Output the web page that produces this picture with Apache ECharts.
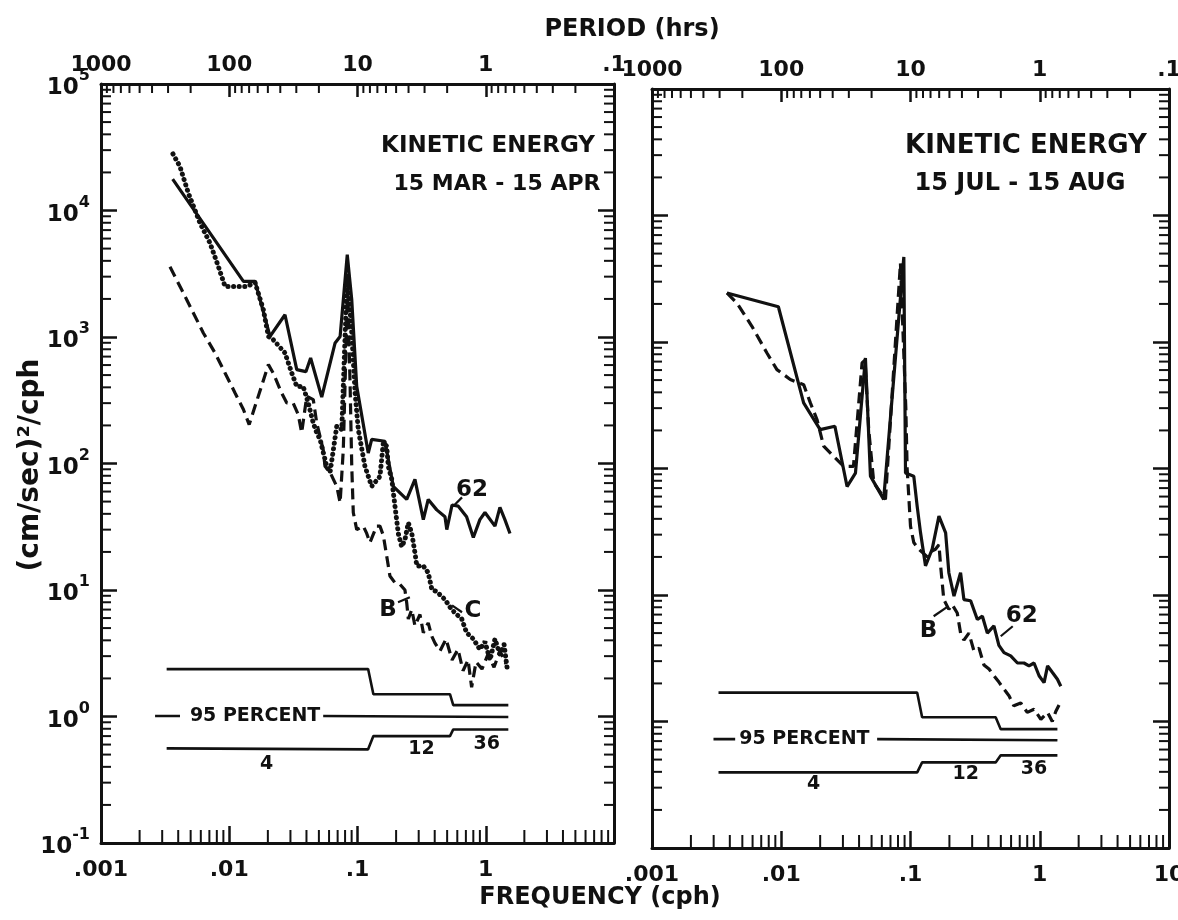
<!DOCTYPE html>
<html>
<head>
<meta charset="utf-8">
<script src="https://cdn.jsdelivr.net/npm/echarts@6.0.0/dist/echarts.min.js"></script>
<style>
html,body{margin:0;padding:0;background:#fff;}
#chart{width:1178px;height:920px;}
</style>
</head>
<body>
<div id="chart"></div>
<script>
// ---------- tick labels ----------
const freqLabels   = ['.001', '.01', '.1', '1', '10'];      // at 0.001 .. 10 cph
const periodLabels = ['1000', '100', '10', '1', '.1'];      // hours, same positions
const powerExponents = ['-1', '0', '1', '2', '3', '4', '5']; // 10^-1 .. 10^5
const minorMantissas = [2, 3, 4, 5, 6, 7, 8, 9];
const freqDecades  = [0.001, 0.01, 0.1, 1];
const periodDecades = [100, 10, 1, 0.1];   // minor periods m*decade (m=2..9)
const powerDecades = [0.1, 1, 10, 100, 1000, 10000];

// ---------- 15 MAR - 15 APR : [frequency cph, KE (cm/s)^2/cph] ----------
const mar62 = [[0.00362,17700],[0.0129,2750],[0.0159,2750],[0.0208,1010],[0.0272,1500],[0.0336,552],[0.0396,532],[0.0431,682],[0.0526,335],[0.0669,897],[0.0732,1010],[0.0832,4470],[0.0902,1970],[0.0986,407],[0.1213,121],[0.129,155],[0.1637,150],[0.190,66],[0.242,52],[0.2805,75],[0.326,36],[0.356,52],[0.415,43],[0.481,38],[0.497,30],[0.546,47],[0.611,46],[0.709,38],[0.80,26],[0.90,36],[0.986,41],[1.18,32],[1.29,45],[1.41,36],[1.545,28]];
const marC = [[0.00364,28000],[0.00413,22200],[0.0048,13700],[0.00592,7940],[0.00708,5520],[0.00822,3610],[0.00927,2510],[0.01368,2510],[0.0159,2690],[0.01846,1640],[0.0202,1010],[0.0220,953],[0.0272,748],[0.0307,520],[0.0336,407],[0.0377,407],[0.0413,301],[0.0452,209],[0.0481,175],[0.0511,155],[0.0575,95],[0.0611,85],[0.0689,197],[0.0754,186],[0.0832,3100],[0.0902,1076],[0.0958,361],[0.1014,186],[0.1143,95],[0.129,66],[0.1496,79],[0.159,146],[0.169,137],[0.1738,95],[0.185,75],[0.196,46],[0.208,28],[0.221,22],[0.2344,25],[0.249,34],[0.265,28],[0.2805,19.7],[0.29,15.5],[0.326,15.5],[0.356,13.7],[0.38,10.1],[0.415,9.7],[0.481,8.4],[0.543,7.0],[0.594,6.4],[0.65,5.9],[0.709,4.6],[0.80,4.1],[0.90,3.4],[0.986,3.9],[1.08,2.8],[1.18,4.1],[1.29,3.1],[1.39,3.7],[1.465,2.45]];
const marB = [[0.00345,3590],[0.00425,2370],[0.00525,1550],[0.00628,1076],[0.00775,748],[0.00927,520],[0.0111,361],[0.0129,267],[0.0143,203],[0.0202,605],[0.022,520],[0.0256,361],[0.0281,301],[0.0315,301],[0.0345,244],[0.0367,175],[0.0402,340],[0.0452,320],[0.0481,209],[0.054,129],[0.0558,95],[0.0611,85],[0.0689,66],[0.0732,49],[0.0775,129],[0.0837,2370],[0.0875,434],[0.0902,95],[0.0927,41],[0.0986,30],[0.111,32],[0.118,28],[0.125,23.7],[0.141,32],[0.1496,32],[0.159,27],[0.169,18.5],[0.179,12.9],[0.196,11.4],[0.214,11.1],[0.2344,10],[0.242,7.9],[0.249,5.9],[0.265,7],[0.2805,5.2],[0.307,6.4],[0.326,4.6],[0.356,5.5],[0.38,4.3],[0.402,3.8],[0.44,3.3],[0.49,4.1],[0.546,2.8],[0.608,3.4],[0.665,2.3],[0.728,2.8],[0.776,1.7],[0.84,2.7],[0.935,2.37],[1.04,3.1],[1.16,2.45],[1.29,3.3],[1.44,2.6]];
const marBandUpper = [[0.00325,2.37],[0.121,2.37],[0.133,1.5],[0.526,1.5],[0.558,1.23],[1.5,1.23]];
const marBandMidA  = [[0.00264,1.01],[0.00413,1.01]];
const marBandMidB  = [[0.054,1.01],[1.5,0.99]];
const marBandLower = [[0.00325,0.56],[0.121,0.55],[0.133,0.70],[0.526,0.70],[0.558,0.79],[1.5,0.79]];
const marNotes = [['95 PERCENT',0.0159,1.0],['4',0.0196,0.42],['12',0.316,0.55],['36',1.016,0.605]];
const marCurveNotes = [['62',0.78,62],['B',0.173,7.0],['C',0.795,6.8]];
const marLeaders = [[[0.575,47.4],[0.653,54]],[[0.207,8.0],[0.256,8.75]],[[0.653,6.67],[0.546,7.57]]];

// ---------- 15 JUL - 15 AUG ----------
const jul62 = [[0.0038,2440],[0.0095,1900],[0.0149,330],[0.020,203],[0.026,216],[0.0323,72],[0.0375,92],[0.0448,748],[0.049,87],[0.062,57],[0.0888,4700],[0.0915,92],[0.106,87],[0.1127,50],[0.1196,31],[0.1306,17],[0.147,23],[0.166,42],[0.187,31],[0.198,15],[0.217,9.8],[0.244,15],[0.259,9.2],[0.292,9.0],[0.329,6.4],[0.36,6.8],[0.393,5.0],[0.442,5.7],[0.483,4.0],[0.529,3.5],[0.596,3.3],[0.672,2.9],[0.755,2.9],[0.826,2.75],[0.903,2.9],[0.988,2.3],[1.08,2.03],[1.15,2.75],[1.25,2.45],[1.37,2.16],[1.455,1.9]];
const julB = [[0.0038,2440],[0.00454,2030],[0.00593,1330],[0.00775,818],[0.00926,605],[0.01175,505],[0.0149,460],[0.0168,330],[0.0189,244],[0.0213,150],[0.0254,125],[0.0304,104],[0.0362,104],[0.0422,683],[0.0445,720],[0.0475,203],[0.052,77],[0.064,57],[0.0836,4200],[0.092,300],[0.0942,100],[0.1,35],[0.106,26],[0.116,23],[0.135,20],[0.143,22],[0.156,23],[0.166,25],[0.171,17],[0.181,9.2],[0.198,7.7],[0.21,8.4],[0.23,7.2],[0.244,5.0],[0.259,4.4],[0.283,5.0],[0.31,3.6],[0.339,3.8],[0.37,2.8],[0.405,2.6],[0.442,2.3],[0.483,2.05],[0.529,1.8],[0.578,1.6],[0.63,1.33],[0.713,1.4],[0.80,1.18],[0.903,1.25],[1.02,1.04],[1.15,1.18],[1.25,1.0],[1.33,1.2],[1.41,1.35]];
const julBandUpper = [[0.00327,1.69],[0.1127,1.69],[0.123,1.08],[0.456,1.08],[0.499,0.87],[1.37,0.87]];
const julBandMidA  = [[0.00299,0.726],[0.0044,0.726]];
const julBandMidB  = [[0.0552,0.726],[1.37,0.71]];
const julBandLower = [[0.00327,0.396],[0.1127,0.396],[0.123,0.475],[0.456,0.475],[0.499,0.54],[1.37,0.54]];
const julNotes = [['95 PERCENT',0.0151,0.726],['4',0.0178,0.32],['12',0.267,0.384],['36',0.903,0.42]];
const julCurveNotes = [['B',0.138,5.2],['62',0.725,6.8]];
const julLeaders = [[[0.151,6.79],[0.194,8.1]],[[0.499,4.72],[0.618,5.66]]];

// ---------- build ----------
const FONT = 'DejaVu Sans';
const INK = '#111';
const minorOf = (decs) => decs.flatMap(d => minorMantissas.map(m => +(m * d).toPrecision(3)));
const xMinor = minorOf(freqDecades);
const topMinor = minorOf(periodDecades).map(p => 1 / p);
const yMinor = minorOf(powerDecades);

const grids = [
  {left: 101, top: 84, width: 513, height: 759},
  {left: 652, top: 89, width: 517, height: 759}
];
const decIdx = v => Math.round(Math.log10(v));

const xAxes = [], yAxes = [], series = [];
grids.forEach((g, gi) => {
  xAxes.push({
    type: 'log', gridIndex: gi, position: 'bottom', min: 0.001, max: 10, splitNumber: 4,
    axisLine: {show: true, lineStyle: {color: INK, width: 3}},
    axisTick: {show: true, inside: true, length: 17, lineStyle: {color: INK, width: 2.5}},
    splitLine: {show: false}, minorTick: {show: false},
    axisLabel: {
      show: true, showMinLabel: true, showMaxLabel: true, margin: 16,
      fontFamily: FONT, fontWeight: 'bold', fontSize: 22, color: INK,
      formatter: v => (gi === 0 && decIdx(v) === 1) ? '' : freqLabels[decIdx(v) + 3]
    }
  });
  xAxes.push({
    type: 'log', gridIndex: gi, position: 'top', min: 0.001, max: 10, splitNumber: 4,
    axisLine: {show: true, lineStyle: {color: INK, width: 3}},
    axisTick: {show: true, inside: true, length: 13, lineStyle: {color: INK, width: 2.5}},
    splitLine: {show: false}, minorTick: {show: false},
    axisLabel: {
      show: true, showMinLabel: true, showMaxLabel: true, margin: 8,
      fontFamily: FONT, fontWeight: 'bold', fontSize: 22, color: INK,
      formatter: v => periodLabels[decIdx(v) + 3]
    }
  });
  yAxes.push({
    type: 'log', gridIndex: gi, position: 'left', min: 0.1, max: 100000, splitNumber: 6,
    axisLine: {show: true, lineStyle: {color: INK, width: 3}},
    axisTick: {show: true, inside: true, length: 16, lineStyle: {color: INK, width: 2.5}},
    splitLine: {show: false}, minorTick: {show: false},
    axisLabel: {
      show: gi === 0, showMinLabel: true, showMaxLabel: true, margin: 11,
      formatter: v => '{b|10}{e|' + powerExponents[decIdx(v) + 1] + '}',
      rich: {
        b: {fontFamily: FONT, fontWeight: 'bold', fontSize: 23, color: INK, lineHeight: 32, verticalAlign: 'bottom'},
        e: {fontFamily: FONT, fontWeight: 'bold', fontSize: 16, color: INK, lineHeight: 16, verticalAlign: 'top'}
      }
    }
  });
  yAxes.push({
    type: 'log', gridIndex: gi, position: 'right', min: 0.1, max: 100000, splitNumber: 6,
    axisLine: {show: true, lineStyle: {color: INK, width: 3}},
    axisTick: {show: true, inside: true, length: 16, lineStyle: {color: INK, width: 2.5}},
    splitLine: {show: false}, minorTick: {show: false},
    axisLabel: {show: false}
  });

  // minor ticks drawn through the axes' scales
  const tickStyle = {stroke: INK, lineWidth: 2};
  series.push({
    type: 'custom', xAxisIndex: 2 * gi, yAxisIndex: 2 * gi, silent: true, z: 6,
    data: xMinor.map(v => [v, 1]),
    renderItem: (params, api) => {
      const cs = params.coordSys, x = api.coord([api.value(0), 1])[0];
      const yb = cs.y + cs.height;
      return {type: 'line', shape: {x1: x, y1: yb, x2: x, y2: yb - 13}, style: tickStyle};
    }
  });
  series.push({
    type: 'custom', xAxisIndex: 2 * gi, yAxisIndex: 2 * gi, silent: true, z: 6,
    data: topMinor.map(v => [v, 1]),
    renderItem: (params, api) => {
      const cs = params.coordSys, x = api.coord([api.value(0), 1])[0];
      return {type: 'line', shape: {x1: x, y1: cs.y, x2: x, y2: cs.y + 9}, style: tickStyle};
    }
  });
  series.push({
    type: 'custom', xAxisIndex: 2 * gi, yAxisIndex: 2 * gi, silent: true, z: 6,
    data: yMinor.map(v => [1, v]),
    renderItem: (params, api) => {
      const cs = params.coordSys, y = api.coord([1, api.value(1)])[1];
      return {type: 'group', children: [
        {type: 'line', shape: {x1: cs.x, y1: y, x2: cs.x + 10, y2: y}, style: tickStyle},
        {type: 'line', shape: {x1: cs.x + cs.width, y1: y, x2: cs.x + cs.width - 10, y2: y}, style: tickStyle}
      ]};
    }
  });
});

function line(gi, data, style) {
  return {type: 'line', xAxisIndex: 2 * gi, yAxisIndex: 2 * gi, data: data, symbol: 'none',
    silent: true, z: 3, lineStyle: Object.assign({color: INK}, style)};
}
function notes(gi, list, size) {
  return {
    type: 'scatter', xAxisIndex: 2 * gi, yAxisIndex: 2 * gi, silent: true, z: 7,
    symbolSize: 1, itemStyle: {color: 'rgba(255,255,255,0)', opacity: 1},
    data: list.map(n => ({name: n[0], value: [n[1], n[2]]})),
    label: {show: true, position: 'inside', formatter: '{b}', fontFamily: FONT, fontWeight: 'bold',
      fontSize: size, color: INK, opacity: 1}
  };
}
const solid = {width: 3.2};
const dashed = {width: 3.2, type: [11, 6]};
const dotted = {width: 5, type: [0.1, 5.5], cap: 'round'};
const band = {width: 2.6};

[[0, [mar62, solid], [marB, dashed], [marC, dotted]], [1, [jul62, solid], [julB, dashed]]].forEach(([gi, ...curves]) => {
  curves.forEach(([d, s]) => series.push(line(gi, d, s)));
});
[[0, [marBandUpper, marBandMidA, marBandMidB, marBandLower], marLeaders, marNotes, marCurveNotes],
 [1, [julBandUpper, julBandMidA, julBandMidB, julBandLower], julLeaders, julNotes, julCurveNotes]].forEach(([gi, bands, leaders, bn, cn]) => {
  bands.forEach(b => series.push(line(gi, b, band)));
  leaders.forEach(l => series.push(line(gi, l, {width: 2.2})));
  series.push(notes(gi, bn, 19));
  series.push(notes(gi, cn, 23));
});

const txt = (x, y, s, size, extra) => Object.assign({
  type: 'text', x: x, y: y, silent: true,
  style: {text: s, fontFamily: FONT, fontWeight: 'bold', fontSize: size, fill: INK, align: 'center', verticalAlign: 'middle'}
}, extra || {});

const option = {
  backgroundColor: '#fff',
  animation: false,
  grid: grids.map(g => Object.assign({containLabel: false, outerBoundsMode: 'none'}, g)),
  xAxis: xAxes,
  yAxis: yAxes,
  series: series,
  graphic: [
    txt(632, 30, 'PERIOD (hrs)', 24),
    txt(600, 898, 'FREQUENCY (cph)', 24),
    txt(31, 465, '(cm/sec)²/cph', 28, {rotation: Math.PI / 2}),
    txt(488, 146, 'KINETIC ENERGY', 23),
    txt(497, 184, '15 MAR - 15 APR', 22),
    txt(1026, 146, 'KINETIC ENERGY', 26),
    txt(1020, 184, '15 JUL - 15 AUG', 24)
  ]
};
const chart = echarts.init(document.getElementById('chart'), null, {renderer: 'canvas'});
chart.setOption(option);
</script>
</body>
</html>
